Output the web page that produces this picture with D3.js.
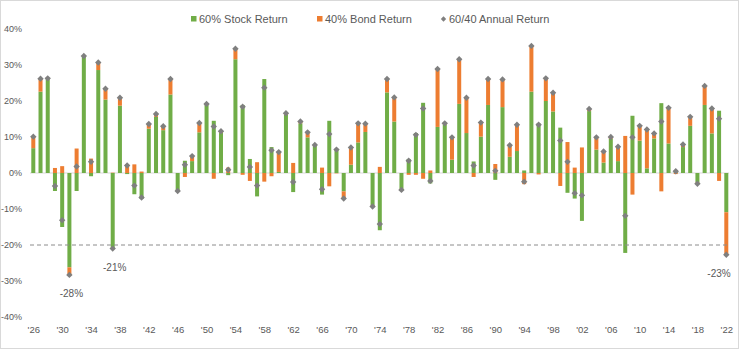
<!DOCTYPE html>
<html>
<head>
<meta charset="utf-8">
<script src="https://cdn.jsdelivr.net/npm/d3@7"></script>
<style>
  html, body { margin: 0; padding: 0; background: #fff; }
  svg { display: block; font-family: "Liberation Sans", Arial, sans-serif; }
</style>
</head>
<body>
<svg id="chart" width="739" height="349"></svg>
<script>
// ---- Data ----
const years = [1926,1927,1928,1929,1930,1931,1932,1933,1934,1935,1936,1937,1938,1939,1940,1941,1942,1943,1944,1945,
  1946,1947,1948,1949,1950,1951,1952,1953,1954,1955,1956,1957,1958,1959,1960,1961,1962,1963,1964,1965,
  1966,1967,1968,1969,1970,1971,1972,1973,1974,1975,1976,1977,1978,1979,1980,1981,1982,1983,1984,1985,
  1986,1987,1988,1989,1990,1991,1992,1993,1994,1995,1996,1997,1998,1999,2000,2001,2002,2003,2004,2005,
  2006,2007,2008,2009,2010,2011,2012,2013,2014,2015,2016,2017,2018,2019,2020,2021,2022];

const stockReturn = [6.9,22.6,26.2,-5.0,-15.0,-26.2,-5.0,32.5,-0.9,28.6,20.4,-21.1,18.7,-0.3,-5.9,-7.2,12.3,15.6,11.9,21.8,
  -4.9,3.4,3.3,11.3,19.1,14.5,11.1,-0.6,31.6,18.9,3.9,-6.5,26.1,7.2,0.3,16.2,-5.3,13.8,9.9,7.5,
  -6.0,14.5,6.6,-5.1,2.3,8.5,11.4,-8.9,-15.9,22.4,14.3,-4.4,3.9,11.1,19.5,-2.9,12.8,13.5,3.7,19.2,
  11.1,3.2,10.1,18.9,-1.9,18.3,4.5,6.1,0.7,22.6,13.8,20.0,17.1,12.6,-5.5,-7.1,-13.3,17.2,6.5,2.9,
  9.5,3.3,-22.2,15.9,9.0,1.3,9.6,19.4,8.2,0.8,7.2,13.1,-2.6,18.9,11.0,17.3,-10.9];

const bondReturn = [3.2,3.6,0.1,1.4,1.9,-2.1,6.8,0.0,4.0,2.1,3.0,0.1,2.2,2.4,2.4,0.4,1.3,0.8,1.1,4.3,
  -0.1,-1.1,1.4,2.6,0.1,-1.6,0.5,1.5,2.9,-0.5,-2.2,3.0,-2.4,-0.9,5.5,0.4,2.8,0.5,1.4,0.3,
  1.5,-3.7,-0.1,-2.0,4.8,5.3,2.3,-0.4,1.7,3.7,6.7,-0.3,-0.5,-0.5,-1.6,0.7,16.1,0.3,6.2,12.4,
  9.8,-1.1,3.9,7.2,2.5,7.7,3.2,7.3,-3.1,12.7,-0.4,6.3,5.2,-3.6,8.6,1.5,7.1,0.6,3.4,3.1,
  0.5,4.0,10.3,-6.0,4.1,10.8,1.4,-5.1,9.9,-0.3,0.7,2.5,-0.4,5.3,6.9,-2.2,-11.8];

const annualReturn = [10.1,26.2,26.3,-3.6,-13.1,-28.3,1.8,32.5,3.1,30.7,23.4,-21.0,20.9,2.1,-3.5,-6.8,13.6,16.4,13.0,26.1,
  -5.0,2.3,4.7,13.9,19.2,12.9,11.6,0.9,34.5,18.4,1.7,-3.5,23.7,6.3,5.8,16.6,-2.5,14.3,11.3,7.8,
  -4.5,10.8,6.5,-7.1,7.1,13.8,13.7,-9.3,-14.2,26.1,21.0,-4.7,3.4,10.6,17.9,-2.2,28.9,13.8,9.9,31.6,
  20.9,2.1,14.0,26.1,0.6,26.0,7.7,13.4,-2.4,35.3,13.4,26.3,22.3,9.0,3.1,-5.6,-6.2,17.8,9.9,6.0,
  10.0,7.3,-11.9,9.9,13.1,12.1,11.0,14.3,18.1,0.5,7.9,15.6,-3.0,24.2,17.9,15.1,-22.7];

const yTicks = [40,30,20,10,0,-10,-20,-30,-40];
const xTickYears = [1926,1930,1934,1938,1942,1946,1950,1954,1958,1962,1966,1970,1974,1978,1982,1986,1990,1994,1998,2002,2006,2010,2014,2018,2022];
const seriesNames = ["60% Stock Return","40% Bond Return","60/40 Annual Return"];
const callouts = [{year:1931, text:"-28%"},{year:1937, text:"-21%"},{year:2022, text:"-23%"}];
const threshold = -20;

// ---- Drawing ----
const W = 739, H = 349;
const green = "#70AD47", orange = "#ED7D31", grey = "#7F7F7F", textCol = "#595959";
const svg = d3.select("#chart");

// outer frame
svg.append("rect").attr("x",0.5).attr("y",0.5).attr("width",W-1).attr("height",H-1)
  .attr("fill","#fff").attr("stroke","#D9D9D9");

const y = d3.scaleLinear().domain([-40,40]).range([317,29]);
const x = d3.scalePoint().domain(years).range([33.3,726.3]);
const plotL = 30, plotR = 729;
const barW = 4;

// y-axis labels
const yAxis = d3.axisLeft(y).tickValues(yTicks).tickFormat(d => d + "%").tickSize(0).tickPadding(0);
const gy = svg.append("g").attr("transform","translate(22,0)").call(yAxis);
gy.select(".domain").remove();
gy.selectAll("text").attr("fill",textCol).style("font-size","9px").style("font-family","'Liberation Sans', Arial, sans-serif");

// x-axis labels
const xAxis = d3.axisBottom(x).tickValues(xTickYears).tickFormat(d => "'" + String(d).slice(2)).tickSize(0).tickPadding(0);
const gx = svg.append("g").attr("transform","translate(0,326)").call(xAxis);
gx.select(".domain").remove();
gx.selectAll("text").attr("fill",textCol).style("font-size","9.5px").style("font-family","'Liberation Sans', Arial, sans-serif");

// zero line
svg.append("line").attr("x1",plotL).attr("x2",plotR).attr("y1",y(0)).attr("y2",y(0))
  .attr("stroke","#D9D9D9").attr("stroke-width",1);

// stacked bars (diverging)
const rows = years.map((yr,i) => {
  const s = stockReturn[i], b = bondReturn[i];
  const s0 = 0, s1 = s;
  let b0, b1;
  if ((b >= 0 && s >= 0) || (b < 0 && s < 0)) { b0 = s; b1 = s + b; } else { b0 = 0; b1 = b; }
  return {yr, s0, s1, b0, b1, t: annualReturn[i]};
});

const g = svg.append("g");
g.selectAll("rect.stock").data(rows).join("rect").attr("class","stock")
  .attr("x", d => x(d.yr) - barW/2).attr("width", barW)
  .attr("y", d => Math.min(y(d.s0), y(d.s1))).attr("height", d => Math.abs(y(d.s0) - y(d.s1)))
  .attr("fill", green);
g.selectAll("rect.bond").data(rows).join("rect").attr("class","bond")
  .attr("x", d => x(d.yr) - barW/2).attr("width", barW)
  .attr("y", d => Math.min(y(d.b0), y(d.b1))).attr("height", d => Math.abs(y(d.b0) - y(d.b1)))
  .attr("fill", orange);

// dashed threshold line
svg.append("line").attr("x1",plotL).attr("x2",plotR).attr("y1",y(threshold)).attr("y2",y(threshold))
  .attr("stroke","#8C8C8C").attr("stroke-width",1).attr("stroke-dasharray","4,3");

// diamonds
const diamond = d3.symbol().type(d3.symbolDiamond2).size(26);
g.selectAll("path.tot").data(rows).join("path").attr("class","tot")
  .attr("transform", d => `translate(${x(d.yr)},${y(d.t)})`)
  .attr("d", diamond).attr("fill", grey);

// callouts
svg.selectAll("text.callout").data(callouts).join("text").attr("class","callout")
  .attr("x", d => Math.min(x(d.year) + 2, 719))
  .attr("y", d => y(annualReturn[years.indexOf(d.year)]) + 22)
  .attr("text-anchor","middle").attr("fill",textCol).style("font-size","10px")
  .text(d => d.text);

// legend
const legend = svg.append("g").attr("transform","translate(0,19)");
const legX = [191, 317, 441];
seriesNames.forEach((name,i) => {
  const gg = legend.append("g").attr("transform",`translate(${legX[i]},0)`);
  if (i < 2) {
    gg.append("rect").attr("x",0).attr("y",-3).attr("width",5.5).attr("height",5.5).attr("fill", i===0?green:orange);
  } else {
    gg.append("path").attr("transform","translate(2.5,0)").attr("d", d3.symbol().type(d3.symbolDiamond2).size(18)).attr("fill",grey);
  }
  gg.append("text").attr("x",8).attr("y",0).attr("dy","0.35em").attr("fill",textCol)
    .style("font-size","11px").text(name);
});
</script>
</body>
</html>
